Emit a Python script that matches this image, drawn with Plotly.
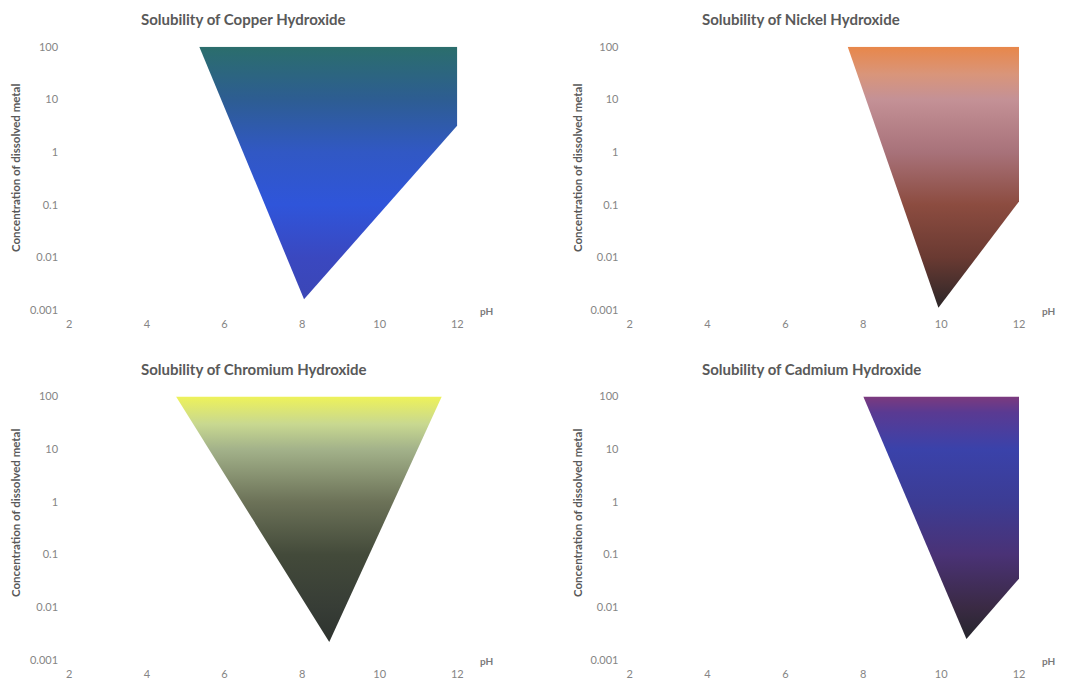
import math
import plotly.graph_objects as go

# Solubility regions (pH vs. dissolved metal concentration) for four hydroxides
copper_ph = [5.35, 12.0, 12.0, 8.05]
copper_conc = [100, 100, 3.2, 0.0016]

nickel_ph = [7.6, 12.0, 12.0, 9.93]
nickel_conc = [100, 100, 0.115, 0.0011]

chromium_ph = [4.75, 11.6, 8.7]
chromium_conc = [100, 100, 0.0022]

cadmium_ph = [8.0, 12.0, 12.0, 10.65]
cadmium_conc = [100, 100, 0.035, 0.0025]

titles = [
    "Solubility of Copper Hydroxide",
    "Solubility of Nickel Hydroxide",
    "Solubility of Chromium Hydroxide",
    "Solubility of Cadmium Hydroxide",
]

x_ticks = [2, 4, 6, 8, 10, 12]
y_ticks = [0.001, 0.01, 0.1, 1, 10, 100]
y_tick_text = ["0.001", "0.01", "0.1", "1", "10", "100"]

# Colour stops keyed by concentration (top of region to bottom)
copper_colors = [(100, "#2b6e6c"), (10, "#2d5d92"), (1, "#3158c4"),
                 (0.1, "#2f55da"), (0.01, "#3a48c0"), (0.001, "#3b46b6")]
nickel_colors = [(100, "#e8874a"), (30, "#d9957a"), (10, "#c49196"),
                 (1, "#a8727a"), (0.1, "#8c4c40"), (0.01, "#6a3a32"),
                 (0.001, "#2c2628")]
chromium_colors = [(100, "#eef25a"), (30, "#c8d890"), (10, "#a3b28a"),
                   (1, "#6c7258"), (0.1, "#434a3a"), (0.01, "#373d36"),
                   (0.001, "#2e332f")]
cadmium_colors = [(100, "#7c3a7e"), (50, "#5a3a92"), (10, "#3a42aa"),
                  (1, "#3c3c94"), (0.1, "#4a3276"), (0.01, "#3a2a44"),
                  (0.001, "#26262c")]

series = [
    (copper_ph, copper_conc, copper_colors),
    (nickel_ph, nickel_conc, nickel_colors),
    (chromium_ph, chromium_conc, chromium_colors),
    (cadmium_ph, cadmium_conc, cadmium_colors),
]

W, H = 1068, 680
# plot-area pixel boxes: (left, right, top, bottom)
boxes = [
    (69.3, 457.3, 46.7, 310.0),
    (629.7, 1019.0, 46.7, 310.0),
    (69.3, 457.3, 396.5, 660.0),
    (629.7, 1019.0, 396.5, 660.0),
]


def colorscale_for(conc, stops):
    lo = math.log10(min(conc))
    hi = math.log10(max(conc))
    scale = []
    for c, col in sorted(stops, key=lambda s: s[0]):
        f = (math.log10(c) - lo) / (hi - lo)
        scale.append([f, col])
    below = [s for s in scale if s[0] <= 0]
    inside = [s for s in scale if 0 < s[0] < 1]
    above = [s for s in scale if s[0] >= 1]
    out = [[0.0, below[-1][1] if below else inside[0][1]]] + inside
    out.append([1.0, above[0][1] if above else inside[-1][1]])
    return out


fig = go.Figure()
grey = "#595959"
font_family = "Lato, Open Sans, sans-serif"
tick_font = dict(family=font_family, size=11, color="#858585")

annotations = []
for i, ((ph, conc, stops), (l, r, t, b), title) in enumerate(zip(series, boxes, titles)):
    n = "" if i == 0 else str(i + 1)
    xa, ya = "x" + n, "y" + n
    fig.add_trace(go.Scatter(
        x=ph + [ph[0]], y=conc + [conc[0]],
        mode="lines", fill="toself",
        line=dict(width=0, color="rgba(0,0,0,0)"),
        fillgradient=dict(type="vertical", colorscale=colorscale_for(conc, stops)),
        xaxis=xa, yaxis=ya, showlegend=False, hoverinfo="skip",
    ))
    fig.layout["xaxis" + n] = dict(
        domain=[l / W, r / W], range=[2, 12], anchor=ya, automargin=False,
        tickvals=x_ticks, ticks="outside", ticklen=4, tickcolor="rgba(0,0,0,0)",
        showgrid=False, zeroline=False, showline=False, tickfont=tick_font,
    )
    fig.layout["yaxis" + n] = dict(
        domain=[1 - b / H, 1 - t / H], type="log", range=[-3, 2], anchor=xa,
        automargin=False,
        tickvals=y_ticks, ticktext=y_tick_text, ticks="outside", ticklen=8,
        tickcolor="rgba(0,0,0,0)", showgrid=False, zeroline=False,
        showline=False, tickfont=tick_font,
    )
    # chart title
    title_x = 139 if l < 300 else 700
    title_y = 19 if t < 300 else 369
    annotations.append(dict(
        text="<b>%s</b>" % title, xref="paper", yref="paper",
        x=title_x / W, y=1 - title_y / H, xanchor="left", yanchor="middle",
        showarrow=False, font=dict(family=font_family, size=15, color=grey),
    ))
    # y axis title
    ytitle_x = 15 if l < 300 else 577
    ytitle_y = 168 if t < 300 else 513
    annotations.append(dict(
        text="<b>Concentration of dissolved metal</b>", xref="paper", yref="paper",
        x=ytitle_x / W, y=1 - ytitle_y / H, xanchor="center", yanchor="middle",
        textangle=-90, showarrow=False,
        font=dict(family=font_family, size=11.5, color=grey),
    ))
    # x axis title
    annotations.append(dict(
        text="<b>pH</b>", xref="paper", yref="paper",
        x=(r + 29) / W, y=1 - (b + 1) / H, xanchor="center", yanchor="middle",
        showarrow=False,
        font=dict(family=font_family, size=10, color="#7a7a7a"),
    ))

fig.update_layout(
    width=W, height=H, margin=dict(l=0, r=0, t=0, b=0),
    paper_bgcolor="white", plot_bgcolor="white",
    annotations=annotations,
)

fig.write_html("out.html")
